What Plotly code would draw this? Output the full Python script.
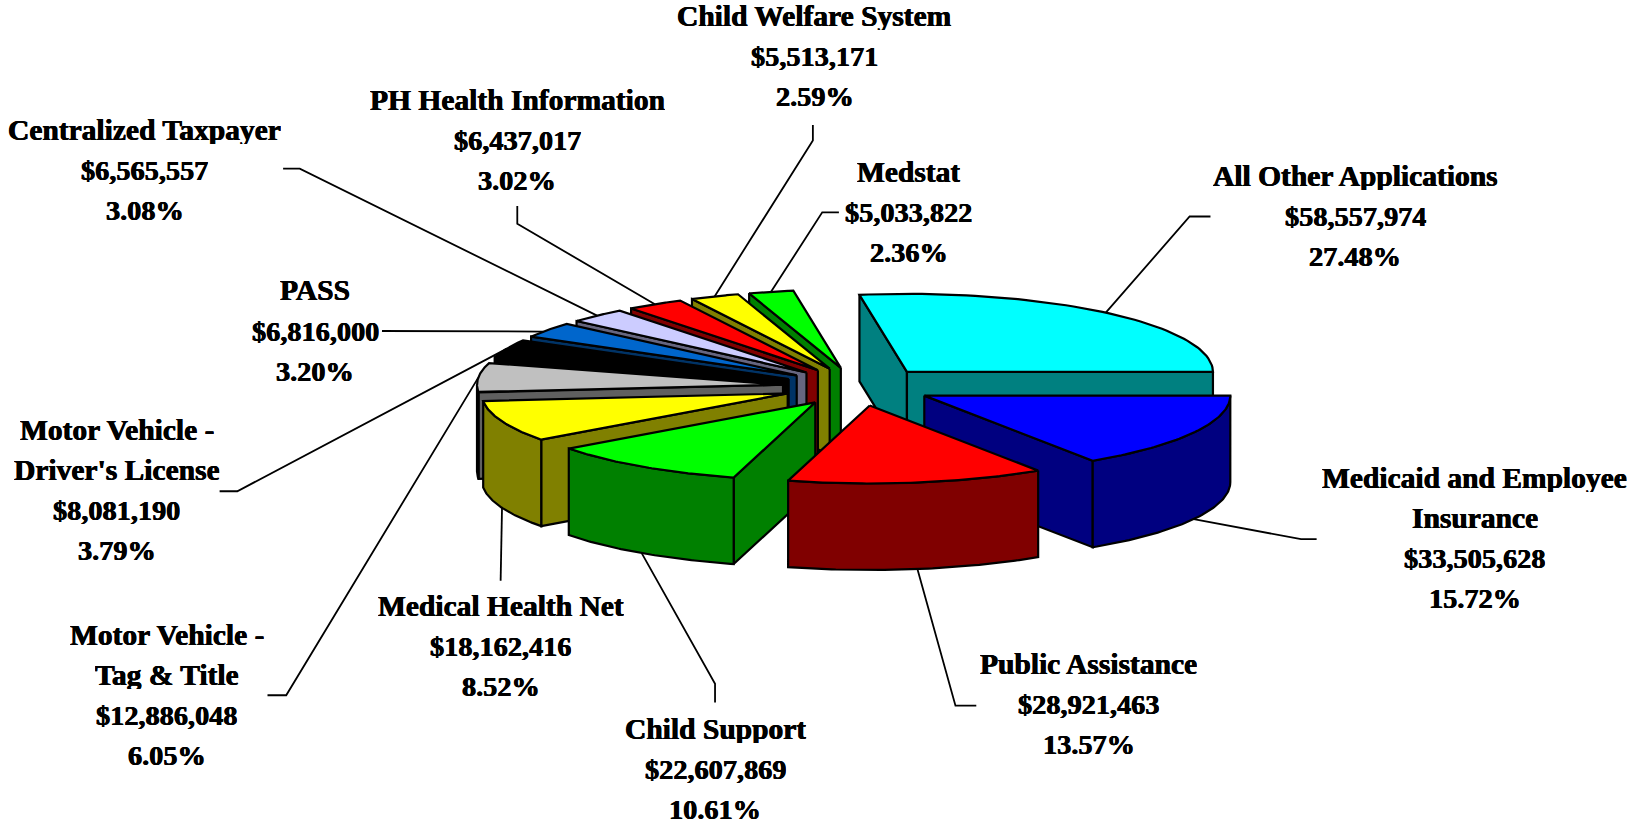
import numpy as np
import plotly.graph_objects as go

# Application costs, in clockwise order starting at the 3 o'clock position
names = ["Medicaid and Employee Insurance", "Public Assistance", "Child Support",
         "Medical Health Net", "Motor Vehicle - Tag & Title", "Motor Vehicle - Driver's License",
         "PASS", "Centralized Taxpayer", "PH Health Information", "Child Welfare System",
         "Medstat", "All Other Applications"]
values = [33505628, 28921463, 22607869, 18162416, 12886048, 8081190,
          6816000, 6565557, 6437017, 5513171, 5033822, 58557974]
top_colors = ["#0000ff", "#ff0000", "#00ff00", "#ffff00", "#c0c0c0", "#000000",
              "#0066cc", "#ccccff", "#ff0000", "#ffff00", "#00ff00", "#00ffff"]
side_colors = ["#000080", "#800000", "#008000", "#808000", "#606060", "#000000",
               "#003366", "#666680", "#800000", "#808000", "#008000", "#008080"]

# Heading lines of each label, split where the text wraps
title_lines = [["Medicaid and Employee", "Insurance"], ["Public Assistance"], ["Child Support"],
               ["Medical Health Net"], ["Motor Vehicle -", "Tag & Title"],
               ["Motor Vehicle -", "Driver's License"], ["PASS"], ["Centralized Taxpayer"],
               ["PH Health Information"], ["Child Welfare System"], ["Medstat"],
               ["All Other Applications"]]

# Pie geometry in pixels
CX, CY = 858.0, 386.5
RADIUS = 306.0
TILT = 0.255
DEPTH = 86.5
EXPLODE = 75.3
EDGE = dict(color="black", width=2.2)
S = 1632 / 1568

# Painting order, back to front
draw_order = [11, 10, 9, 8, 7, 6, 5, 4, 3, 2, 0, 1]

# Centre of the label block and middle of its first line, then line pitch
label_x = [1417, 1046, 687, 481, 160, 112, 303, 139, 497, 783, 873, 1302]
label_y = [459, 638, 700, 582, 610, 413, 279, 125, 96, 15, 165, 169]
LINE_STEP = 38.6

# Leader elbows, from the slice outward to the label
elbows = [[(1250, 518), (1265, 518)], [(918, 678), (938, 678)], [(687, 657), (687, 675)],
          [(481, 558)], [(275, 668), (257, 668)], [(228, 472), (211, 472)], [(367, 318)],
          [(288, 162), (272, 162)], [(497, 215), (497, 198)], [(781, 135), (781, 120)],
          [(790, 204), (806, 204)], [(1143, 208), (1163, 208)]]
# Where along the rim each leader attaches, as a fraction of the slice's sweep
anchor_frac = [0.5, 0.5, 0.5, 0.5, 0.5, 0.5, 0.38, 0.5, 0.5, 0.5, 0.5, 0.5]

total = sum(values)
shares = [v / total for v in values]
upper = 0.0
angles = []
for share in shares:
    lower = upper - share * 360.0
    angles.append((upper, lower))
    upper = lower


def project(apex, theta_deg, drop=0.0):
    t = np.radians(theta_deg)
    return (apex[0] + RADIUS * np.cos(t), apex[1] - RADIUS * TILT * np.sin(t) + drop)


def apex_of(i):
    t = np.radians(sum(angles[i]) / 2)
    return (CX + EXPLODE * np.cos(t), CY - EXPLODE * TILT * np.sin(t))


def polygon(fig, pts, fill):
    xs = [p[0] for p in pts] + [pts[0][0]]
    ys = [p[1] for p in pts] + [pts[0][1]]
    fig.add_trace(go.Scatter(x=xs, y=ys, mode="lines", fill="toself", fillcolor=fill,
                             line=EDGE, hoverinfo="skip", showlegend=False))


def radial_face(fig, apex, theta, fill):
    rim = project(apex, theta)
    polygon(fig, [apex, rim, (rim[0], rim[1] + DEPTH), (apex[0], apex[1] + DEPTH)], fill)


fig = go.Figure()

for i in draw_order:
    hi, lo = angles[i]
    apex = apex_of(i)
    # Only the faces turned toward the viewer are painted
    if np.cos(np.radians(hi)) < 0:
        radial_face(fig, apex, hi, side_colors[i])
    if np.cos(np.radians(lo)) > 0:
        radial_face(fig, apex, lo, side_colors[i])
    arc = np.linspace(hi, lo, 60)
    front = arc[np.sin(np.radians(arc)) <= 0]
    if len(front) > 1:
        rim_top = [project(apex, a) for a in front]
        rim_bottom = [project(apex, a, DEPTH) for a in front[::-1]]
        polygon(fig, rim_top + rim_bottom, side_colors[i])
    polygon(fig, [apex] + [project(apex, a) for a in arc], top_colors[i])

# Leader lines run from each slice's rim to its label
for i, bends in enumerate(elbows):
    hi, lo = angles[i]
    theta = hi + (lo - hi) * anchor_frac[i]
    drop = DEPTH if np.sin(np.radians(theta)) < 0 else 0.0
    start = project(apex_of(i), theta, drop)
    xs = [start[0]] + [b[0] * S for b in bends]
    ys = [start[1]] + [b[1] * S for b in bends]
    fig.add_trace(go.Scatter(x=xs, y=ys, mode="lines", line=dict(color="black", width=1.8),
                             hoverinfo="skip", showlegend=False))

annotations = []
HEAVY = "0.4px 0 0 black, -0.4px 0 0 black"
TITLE_FONT = dict(family="Liberation Serif", size=29.5, color="black", shadow=HEAVY)
NUMBER_FONT = dict(family="Liberation Serif", size=28.3, color="black", shadow=HEAVY)
for i in range(len(values)):
    lines = title_lines[i] + [f"${values[i]:,}", f"{shares[i] * 100:.2f}%"]
    for n, text in enumerate(lines):
        font = TITLE_FONT if n < len(title_lines[i]) else NUMBER_FONT
        annotations.append(dict(x=label_x[i] * S, y=(label_y[i] + n * LINE_STEP) * S,
                                text=f"<b>{text}</b>", showarrow=False, font=font, height=28,
                                xanchor="center", yanchor="middle"))

fig.update_layout(
    width=1632, height=823, margin=dict(l=0, r=0, t=0, b=0),
    paper_bgcolor="white", plot_bgcolor="white", showlegend=False,
    xaxis=dict(range=[0, 1632], visible=False, fixedrange=True),
    yaxis=dict(range=[823, 0], visible=False, fixedrange=True),
    annotations=annotations,
)

fig.write_html("out.html")
